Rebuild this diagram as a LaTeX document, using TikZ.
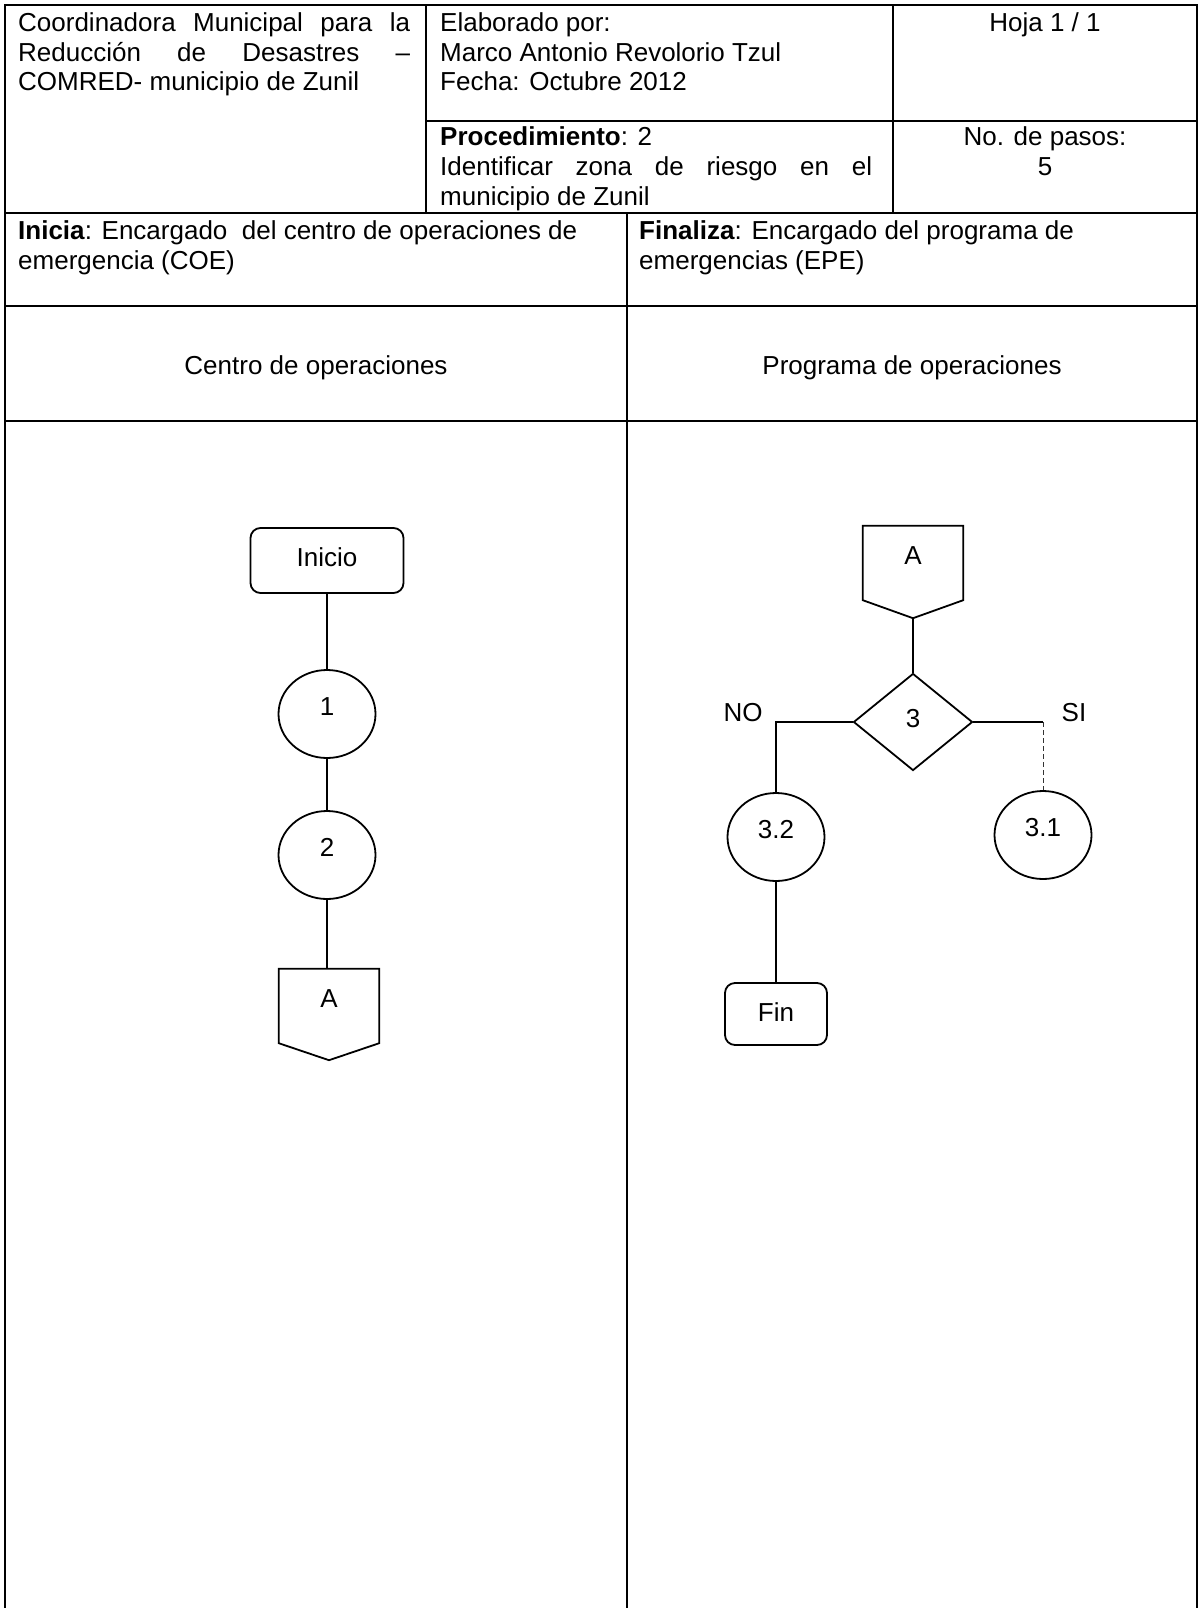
\documentclass[tikz,border=0pt]{standalone}
\usepackage{fontspec}
\setmainfont{Liberation Sans}
\usetikzlibrary{shapes.geometric}
\begin{document}
\begin{tikzpicture}[x=1pt,y=-1pt,
  every node/.style={font=\fontsize{26}{29.5}\selectfont},
  tbl/.style={line width=1.8pt},
  shp/.style={line width=1.8pt},
  txt/.style={inner sep=0pt,anchor=base west},
  ctxt/.style={inner sep=0pt,anchor=base},
  proc/.style={shp,draw,ellipse,minimum width=97pt,minimum height=88pt,inner sep=0pt,text height=18.6pt,text depth=16pt},
  term/.style={shp,draw,rectangle,rounded corners=10pt,inner sep=0pt,text height=18.6pt},
  offpage/.style={rectangle,inner sep=0pt,minimum width=100pt,minimum height=74pt,text height=18.6pt,text depth=16pt},
  decision/.style={shp,draw,diamond,inner sep=0pt,minimum width=119pt,minimum height=97pt,text height=18.6pt,text depth=8pt},
  conn/.style={line width=1.6pt},
  dconn/.style={line width=1pt,dash pattern=on 5pt off 3pt,draw=black!80}
]
\useasboundingbox (0,0) rectangle (1201,1608);

% table
\draw[tbl] (5,1608) -- (5,5) -- (1197,5) -- (1197,1608);
\draw[tbl] (426,5) -- (426,213);
\draw[tbl] (893,5) -- (893,213);
\draw[tbl] (426,121) -- (1197,121);
\draw[tbl] (5,213) -- (1197,213);
\draw[tbl] (627,213) -- (627,1608);
\draw[tbl] (5,306) -- (1197,306);
\draw[tbl] (5,421) -- (1197,421);

% header texts
\node[txt] (h1a) at (18,32) {\makebox[392pt][s]{Coordinadora Municipal para la}};
\node[txt] (h1b) at (18,61.5) {\makebox[392pt][s]{Reducción de Desastres –}};
\node[txt] (h1c) at (18,91) {COMRED- municipio de Zunil};

\node[txt] (h2a) at (440,32) {Elaborado por:};
\node[txt] (h2b) at (440,61.5) {Marco Antonio Revolorio Tzul};
\node[txt] (h2c) at (440,91) {Fecha: Octubre 2012};

\node[txt] (h3a) at (440,146) {\textbf{Procedimiento}: 2};
\node[txt] (h3b) at (440,175.5) {\makebox[432pt][s]{Identificar zona de riesgo en el}};
\node[txt] (h3c) at (440,205) {municipio de Zunil};

\node[ctxt] (h4a) at (1045,32) {Hoja 1 / 1};
\node[ctxt] (h5a) at (1045,146) {No. de pasos:};
\node[ctxt] (h5b) at (1045,175.5) {5};

\node[txt] (ini1) at (18,239.5) {\textbf{Inicia}: Encargado\ \ del centro de operaciones de};
\node[txt] (ini2) at (18,269) {emergencia (COE)};
\node[txt] (fin1) at (639,239.5) {\textbf{Finaliza}: Encargado del programa de};
\node[txt] (fin2) at (639,269) {emergencias (EPE)};

\node[ctxt] (lane1) at (316,374.5) {Centro de operaciones};
\node[ctxt] (lane2) at (912,374.5) {Programa de operaciones};

% left lane
\node[term,minimum width=153pt,minimum height=65pt,text depth=7pt] (inicio) at (327,560.5) {Inicio};
\node[proc] (p1) at (327,714) {1};
\node[proc] (p2) at (327,855) {2};
\node[offpage] (aL) at (329,1006) {A};
\draw[shp] (aL.north west) -- (aL.north east) -- (aL.south east) -- ([yshift=-17pt]aL.south) -- (aL.south west) -- cycle;

\draw[conn] (inicio.south) -- (p1.north);
\draw[conn] (p1.south) -- (p2.north);
\draw[conn] (p2.south) -- (p2.south |- aL.north);

% right lane
\node[offpage] (aR) at (913,563) {A};
\draw[shp] (aR.north west) -- (aR.north east) -- (aR.south east) -- ([yshift=-18pt]aR.south) -- (aR.south west) -- cycle;
\coordinate (aRtip) at ([yshift=-18pt]aR.south);
\node[decision] (d3) at (913,722) {3};
\node[proc] (p32) at (776,837) {3.2};
\node[proc] (p31) at (1043,835) {3.1};
\node[term,minimum width=102pt,minimum height=62pt,text depth=4pt] (fin) at (776,1014) {Fin};
\node[inner sep=0pt] (no) at (743,713) {NO};
\node[inner sep=0pt] (si) at (1074,713) {SI};

\draw[conn] (aRtip) -- (d3.north);
\draw[conn] (d3.west) -| (p32.north);
\draw[conn] (p32.south) -- (fin.north);
\coordinate (sic) at (d3.east -| p31.north);
\draw[conn] (d3.east) -- (sic);
\draw[dconn] (sic) -- (p31.north);
\end{tikzpicture}
\end{document}
